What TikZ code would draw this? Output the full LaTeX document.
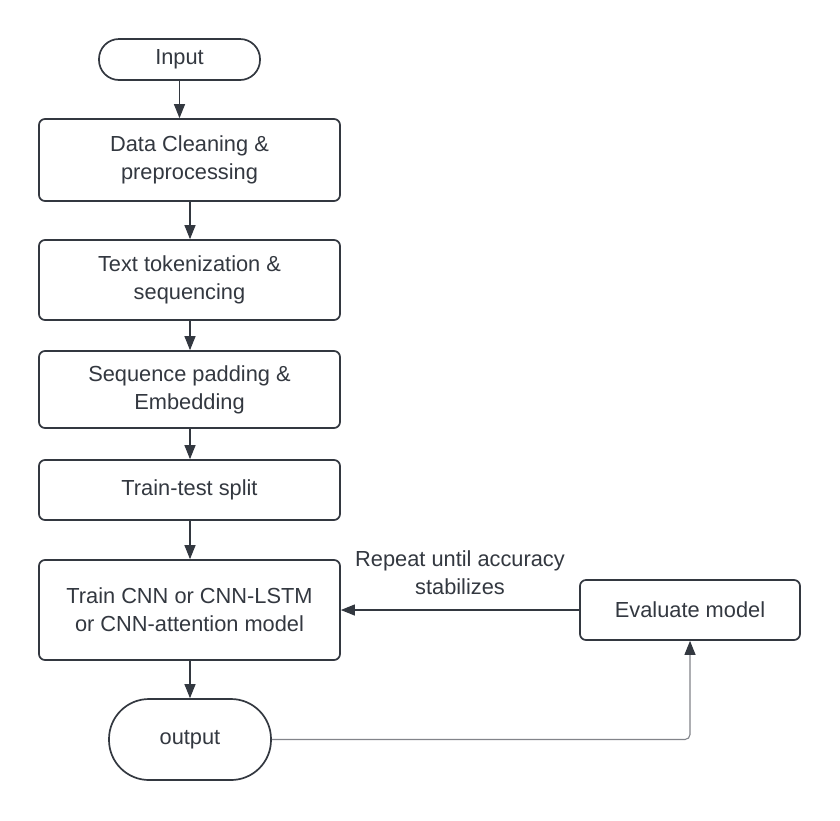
\documentclass[tikz,border=0pt]{standalone}
\usepackage{fontspec}
\setmainfont{Liberation Sans}
\usetikzlibrary{arrows.meta,calc}
\definecolor{ink}{RGB}{51,56,64}
\definecolor{lightln}{RGB}{130,132,138}
\begin{document}
\begin{tikzpicture}[x=1pt,y=1pt,
  every node/.style={font=\fontsize{21.8}{28}\selectfont, text=ink, align=center, inner sep=0pt},
  proc/.style={draw=ink, line width=1.7pt, rounded corners=6pt, minimum width=301pt},
  term/.style={draw=ink, line width=1.7pt, rounded corners=#1, },
  conn/.style={draw=ink, line width=1.1pt, -{Triangle[length=14pt,width=11pt]}},
]
\useasboundingbox (0,0) rectangle (840,-820);
\fill[white] (0,0) rectangle (840,-820);

\node[term=20pt, minimum width=161pt, minimum height=41pt] (input) at (179.5,-59.5) {Input};
\node[proc, minimum height=82pt] (clean) at (189.5,-160) {Data Cleaning \&\\preprocessing};
\node[proc, minimum height=80pt] (tok) at (189.5,-280) {Text tokenization \&\\sequencing};
\node[proc, minimum height=77pt] (pad) at (189.5,-389.5) {Sequence padding \&\\Embedding};
\node[proc, minimum height=60pt] (split) at (189.5,-490) {Train-test split};
\node[proc, minimum height=100pt] (train) at (189.5,-610) {Train CNN or CNN-LSTM\\or CNN-attention model};
\node[term=40pt, minimum width=162pt, minimum height=81pt] (output) at (190,-739.5) {output};
\node[proc, minimum width=220pt, minimum height=60pt] (eval) at (690,-610) {Evaluate model};
\node (lbl) at (460,-573) {Repeat until accuracy\\stabilizes};

\draw[conn] (input.south) -- (input.south |- clean.north);
\draw[conn] (clean.south -| 190,0) -- (tok.north -| 190,0);
\draw[conn] (tok.south -| 190,0) -- (pad.north -| 190,0);
\draw[conn] (pad.south -| 190,0) -- (split.north -| 190,0);
\draw[conn] (split.south -| 190,0) -- (train.north -| 190,0);
\draw[conn] (train.south -| 190,0) -- (output.north);
\draw[conn] (eval.west) -- (train.east);
\draw[draw=lightln, line width=1.1pt, rounded corners=5pt, -{Triangle[length=14pt,width=11pt,color=ink]}]
  (output.east) -- (eval.south |- output.east) -- (eval.south);
\end{tikzpicture}
\end{document}
